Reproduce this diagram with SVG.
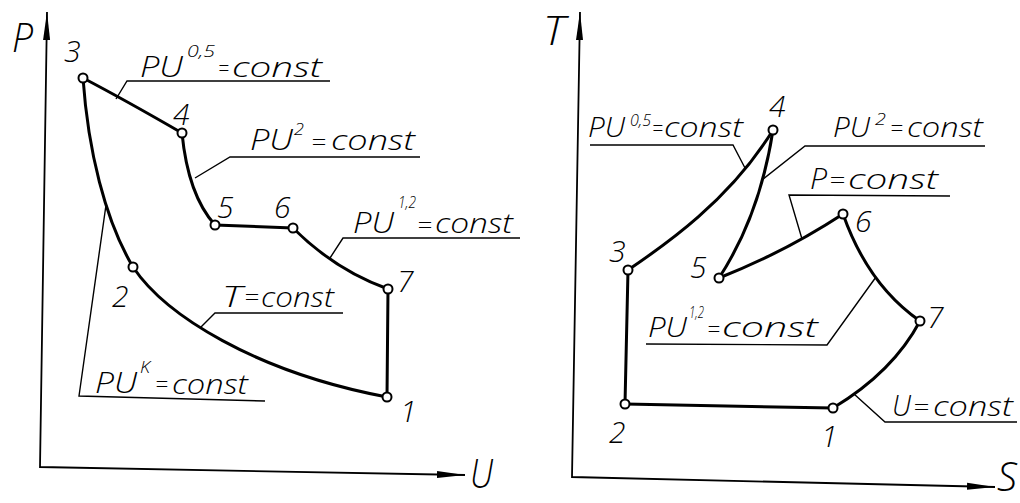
<svg xmlns="http://www.w3.org/2000/svg" width="1020" height="503" viewBox="0 0 1020 503">
<style>
.proc{fill:none;stroke:#000;stroke-width:3;stroke-linecap:round;stroke-linejoin:round}
.lead{fill:none;stroke:#000;stroke-width:1.4}
.axis{fill:none;stroke:#000;stroke-width:1.8}
.pt{fill:#fff;stroke:#000;stroke-width:2}
text{font-family:"Open Sans","Liberation Sans",Arial,sans-serif;font-weight:300;font-style:italic;fill:#000}
.n{font-size:30px}
.big{font-size:30px}
.c{font-size:28px}
.eq{font-size:24px}
.sup{font-size:16px}
.ax{font-size:41px}
</style>
<defs>
<marker id="arr" viewBox="0 0 28 8" refX="28" refY="4" markerWidth="28" markerHeight="8" markerUnits="userSpaceOnUse" orient="auto-start-reverse">
<path d="M0,0.5 L28,4 L0,7.5 Z" fill="#000"/>
</marker>
</defs>
<rect width="1020" height="503" fill="#fff"/>

<g id="axes">
<path class="axis" d="M47,12 L40,467 L465,475" marker-start="url(#arr)" marker-end="url(#arr)"/>
<path class="axis" d="M580,12 L572,477 L995,487" marker-start="url(#arr)" marker-end="url(#arr)"/>
<text class="ax" x="12" y="52" textLength="21" lengthAdjust="spacingAndGlyphs">P</text>
<text class="ax" x="470" y="488" textLength="23" lengthAdjust="spacingAndGlyphs">U</text>
<text class="ax" x="543" y="45" textLength="22" lengthAdjust="spacingAndGlyphs">T</text>
<text class="ax" x="997" y="491" textLength="20" lengthAdjust="spacingAndGlyphs">S</text>
</g>

<g id="connectors">
<path class="proc" d="M83,78 Q125,100 182,133"/>
<path class="proc" d="M182,133 Q188,195 215,225"/>
<path class="proc" d="M215,225 L293,228"/>
<path class="proc" d="M293,228 Q335,270 388,289"/>
<path class="proc" d="M388,289 L387,397"/>
<path class="proc" d="M387,397 C255,372 165,315 133,267"/>
<path class="proc" d="M133,267 C105,220 88,150 83,78"/>

<path class="proc" d="M628,270 C665,245 730,200 773,130"/>
<path class="proc" d="M773,130 Q760,215 719,278"/>
<path class="proc" d="M719,278 Q785,252 843,214"/>
<path class="proc" d="M843,214 Q868,285 920,321"/>
<path class="proc" d="M920,321 Q893,372 833,408"/>
<path class="proc" d="M833,408 L625,404"/>
<path class="proc" d="M625,404 L628,270"/>
</g>

<g id="leaders">
<path class="lead" d="M116,99 L127,81 L330,81"/>
<path class="lead" d="M195,178 L230,157 L420,157"/>
<path class="lead" d="M330,258 L343,238 L520,238"/>
<path class="lead" d="M201,327 L215,313 L343,313"/>
<path class="lead" d="M106,205 L79,396 L265,401"/>
<path class="lead" d="M745,168 L733,145 L590,145"/>
<path class="lead" d="M762,180 L805,146 L985,146"/>
<path class="lead" d="M802,239 L789,195 L950,196"/>
<path class="lead" d="M876,277 L827,345 L646,344"/>
<path class="lead" d="M854,394 L885,422 L1017,422"/>
</g>

<g id="lbl-pv05-left">
<text class="big" x="140" y="77" textLength="43" lengthAdjust="spacingAndGlyphs">PU</text>
<text class="sup" x="187" y="57" textLength="28" lengthAdjust="spacingAndGlyphs">0,5</text>
<text class="eq" x="218" y="77" textLength="11" lengthAdjust="spacingAndGlyphs">=</text>
<text class="c" x="232" y="77" textLength="90" lengthAdjust="spacingAndGlyphs">const</text>
</g>
<g id="lbl-pv2-left">
<text class="big" x="250" y="150" textLength="43" lengthAdjust="spacingAndGlyphs">PU</text>
<text class="sup" x="294" y="135" textLength="10" lengthAdjust="spacingAndGlyphs">2</text>
<text class="eq" x="311" y="151" textLength="15" lengthAdjust="spacingAndGlyphs">=</text>
<text class="c" x="331" y="150" textLength="84" lengthAdjust="spacingAndGlyphs">const</text>
</g>
<g id="lbl-pv12-left">
<text class="big" x="353" y="233" textLength="41" lengthAdjust="spacingAndGlyphs">PU</text>
<text class="sup" x="398" y="208" textLength="18" lengthAdjust="spacingAndGlyphs">1,2</text>
<text class="eq" x="417" y="234" textLength="15" lengthAdjust="spacingAndGlyphs">=</text>
<text class="c" x="435" y="233" textLength="78" lengthAdjust="spacingAndGlyphs">const</text>
</g>
<g id="lbl-T-left">
<text class="big" x="222" y="307" textLength="20" lengthAdjust="spacingAndGlyphs">T</text>
<text class="eq" x="244" y="306" textLength="15" lengthAdjust="spacingAndGlyphs">=</text>
<text class="c" x="261" y="307" textLength="73" lengthAdjust="spacingAndGlyphs">const</text>
</g>
<g id="lbl-pvk-left">
<text class="big" x="95" y="393" textLength="42" lengthAdjust="spacingAndGlyphs">PU</text>
<text class="sup" x="140" y="373" textLength="10" lengthAdjust="spacingAndGlyphs">K</text>
<text class="eq" x="155" y="393" textLength="13" lengthAdjust="spacingAndGlyphs">=</text>
<text class="c" x="172" y="394" textLength="76" lengthAdjust="spacingAndGlyphs">const</text>
</g>

<g id="lbl-pv05-right">
<text class="c" x="588" y="137" textLength="37" lengthAdjust="spacingAndGlyphs">PU</text>
<text class="sup" x="630" y="126" textLength="21" lengthAdjust="spacingAndGlyphs">0,5</text>
<text class="eq" x="652" y="137" textLength="11" lengthAdjust="spacingAndGlyphs">=</text>
<text class="c" x="664" y="137" textLength="79" lengthAdjust="spacingAndGlyphs">const</text>
</g>
<g id="lbl-pv2-right">
<text class="c" x="833" y="137" textLength="37" lengthAdjust="spacingAndGlyphs">PU</text>
<text class="sup" x="875" y="125" textLength="11" lengthAdjust="spacingAndGlyphs">2</text>
<text class="eq" x="890" y="137" textLength="13" lengthAdjust="spacingAndGlyphs">=</text>
<text class="c" x="907" y="137" textLength="76" lengthAdjust="spacingAndGlyphs">const</text>
</g>
<g id="lbl-p-right">
<text class="big" x="810" y="189" textLength="17" lengthAdjust="spacingAndGlyphs">P</text>
<text class="eq" x="829" y="189" textLength="16" lengthAdjust="spacingAndGlyphs">=</text>
<text class="c" x="848" y="189" textLength="90" lengthAdjust="spacingAndGlyphs">const</text>
</g>
<g id="lbl-pv12-right">
<text class="c" x="648" y="337" textLength="39" lengthAdjust="spacingAndGlyphs">PU</text>
<text class="sup" x="689" y="318" textLength="15" lengthAdjust="spacingAndGlyphs">1,2</text>
<text class="eq" x="707" y="338" textLength="13" lengthAdjust="spacingAndGlyphs">=</text>
<text class="c" x="722" y="337" textLength="96" lengthAdjust="spacingAndGlyphs">const</text>
</g>
<g id="lbl-v-right">
<text class="big" x="892" y="416" textLength="19" lengthAdjust="spacingAndGlyphs">U</text>
<text class="eq" x="913" y="416" textLength="16" lengthAdjust="spacingAndGlyphs">=</text>
<text class="c" x="933" y="416" textLength="80" lengthAdjust="spacingAndGlyphs">const</text>
</g>

<g id="L1"><circle class="pt" cx="387" cy="397" r="4.5"/><text class="n" x="400" y="422">1</text></g>
<g id="L2"><circle class="pt" cx="133" cy="267" r="4.5"/><text class="n" x="112" y="307">2</text></g>
<g id="L3"><circle class="pt" cx="83" cy="78" r="4.5"/><text class="n" x="64" y="62">3</text></g>
<g id="L4"><circle class="pt" cx="182" cy="133" r="4.5"/><text class="n" x="173" y="125">4</text></g>
<g id="L5"><circle class="pt" cx="215" cy="225" r="4.5"/><text class="n" x="217" y="218">5</text></g>
<g id="L6"><circle class="pt" cx="293" cy="228" r="4.5"/><text class="n" x="274" y="218">6</text></g>
<g id="L7"><circle class="pt" cx="388" cy="289" r="4.5"/><text class="n" x="397" y="292">7</text></g>

<g id="R1"><circle class="pt" cx="833" cy="408" r="4.5"/><text class="n" x="821" y="447">1</text></g>
<g id="R2"><circle class="pt" cx="625" cy="404" r="4.5"/><text class="n" x="609" y="443">2</text></g>
<g id="R3"><circle class="pt" cx="628" cy="270" r="4.5"/><text class="n" x="609" y="262">3</text></g>
<g id="R4"><circle class="pt" cx="773" cy="130" r="4.5"/><text class="n" x="769" y="117">4</text></g>
<g id="R5"><circle class="pt" cx="719" cy="278" r="4.5"/><text class="n" x="690" y="278">5</text></g>
<g id="R6"><circle class="pt" cx="843" cy="214" r="4.5"/><text class="n" x="855" y="232">6</text></g>
<g id="R7"><circle class="pt" cx="920" cy="321" r="4.5"/><text class="n" x="927" y="328">7</text></g>
</svg>
